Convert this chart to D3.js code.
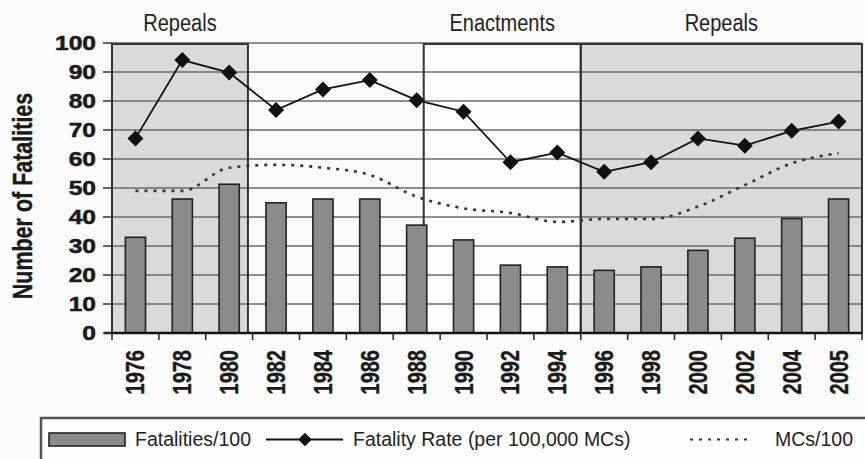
<!DOCTYPE html>
<html>
<head>
<meta charset="utf-8">
<script src="https://cdn.jsdelivr.net/npm/d3@7"></script>
<style>
  html, body { margin: 0; padding: 0; background: #fbfbfb; }
  svg { display: block; }
</style>
</head>
<body>
<svg id="chart" width="865" height="459"></svg>
<script>
// ---- data ----
const years = ["1976","1978","1980","1982","1984","1986","1988","1990","1992","1994","1996","1998","2000","2002","2004","2005"];
const fatalities = [33, 46.2, 51.3, 44.9, 46.2, 46.2, 37.2, 32.1, 23.4, 22.8, 21.6, 22.8, 28.5, 32.7, 39.5, 46.2];
const fatalityRate = [67.1, 94.1, 89.8, 76.9, 84.0, 87.2, 80.3, 76.3, 58.9, 62.2, 55.6, 58.9, 67.1, 64.6, 69.7, 72.9];
const mcs = [49, 49, 57, 58, 57, 54.5, 47, 43, 41.4, 38.3, 39.3, 39.3, 43.6, 51, 58.5, 62];
const yTicks = [0, 10, 20, 30, 40, 50, 60, 70, 80, 90, 100];
const regionLabels = ["Repeals", "Enactments", "Repeals"];
const regionStart = [0, 6.65, 10];   // in category-index units
const regionEnd = [2.9, 10, 16];
const regionShaded = [true, false, true];
const legendLabels = ["Fatalities/100", "Fatality Rate (per 100,000 MCs)", "MCs/100"];
const yTitle = "Number of Fatalities";

// ---- layout ----
const svg = d3.select("#chart");
const L = 112, R = 862, T = 43, B = 333;

const x = d3.scaleBand().domain(years).range([L, R]).paddingInner(0.57).paddingOuter(0.285);
const xi = d3.scaleLinear().domain([0, years.length]).range([L, R]);
const y = d3.scaleLinear().domain([0, 100]).range([B, T]);
const cx = d => x(d) + x.bandwidth() / 2;

const barFill = "#8b8b8b", shade = "#dadada", dark = "#222";
const font = "'Liberation Sans', Arial, sans-serif";

// region boxes
regionLabels.forEach((lab, i) => {
  svg.append("rect")
    .attr("x", xi(regionStart[i])).attr("y", y(100) + 1)
    .attr("width", xi(regionEnd[i]) - xi(regionStart[i]))
    .attr("height", y(0) - y(100) - 1)
    .attr("fill", regionShaded[i] ? shade : "#fdfdfd");
});

// gridlines
svg.append("g").selectAll("line").data(yTicks.filter(t => t > 0)).join("line")
  .attr("x1", L).attr("x2", R - 1)
  .attr("y1", d => y(d)).attr("y2", d => y(d))
  .attr("stroke", "#6a6a6a").attr("stroke-width", 1.4);

// region borders and labels
regionLabels.forEach((lab, i) => {
  svg.append("rect")
    .attr("x", xi(regionStart[i])).attr("y", y(100) + 1)
    .attr("width", xi(regionEnd[i]) - xi(regionStart[i]))
    .attr("height", y(0) - y(100) - 1)
    .attr("fill", "none").attr("stroke", "#333").attr("stroke-width", 2);
  svg.append("g")
    .attr("transform", `translate(${(xi(regionStart[i]) + xi(regionEnd[i])) / 2},30.5) scale(0.87,1)`)
    .append("text")
    .attr("text-anchor", "middle")
    .attr("font-family", font)
    .attr("font-size", 23).attr("fill", "#222")
    .text(lab);
});

// bars
svg.append("g").selectAll("rect").data(years).join("rect")
  .attr("x", d => x(d)).attr("width", x.bandwidth())
  .attr("y", (d, i) => y(fatalities[i]))
  .attr("height", (d, i) => y(0) - y(fatalities[i]))
  .attr("fill", barFill).attr("stroke", dark).attr("stroke-width", 1.6);

// MCs dotted line
svg.append("path")
  .datum(years)
  .attr("d", d3.line().x(d => cx(d)).y((d, i) => y(mcs[i])).curve(d3.curveMonotoneX))
  .attr("fill", "none").attr("stroke", "#333").attr("stroke-width", 2.6)
  .attr("stroke-dasharray", "3,6");

// fatality rate line
svg.append("path")
  .datum(years)
  .attr("d", d3.line().x(d => cx(d)).y((d, i) => y(fatalityRate[i])))
  .attr("fill", "none").attr("stroke", "#111").attr("stroke-width", 1.8);

svg.append("g").selectAll("path").data(years).join("path")
  .attr("d", d3.symbol().type(d3.symbolSquare).size(128))
  .attr("transform", (d, i) => `translate(${cx(d)},${y(fatalityRate[i])}) rotate(45)`)
  .attr("fill", "#111");

// x axis line + ticks
svg.append("line").attr("x1", 104).attr("x2", R).attr("y1", B).attr("y2", B)
  .attr("stroke", "#111").attr("stroke-width", 2.5);
svg.append("g").selectAll("line").data(d3.range(years.length + 1)).join("line")
  .attr("x1", d => xi(d)).attr("x2", d => xi(d))
  .attr("y1", B).attr("y2", B + 7)
  .attr("stroke", "#222").attr("stroke-width", 1.5);

// y ticks
svg.append("g").selectAll("line").data(yTicks).join("line")
  .attr("x1", 103).attr("x2", L).attr("y1", d => y(d)).attr("y2", d => y(d))
  .attr("stroke", "#333").attr("stroke-width", 1.5);
svg.append("g").selectAll("g").data(yTicks).join("g")
  .attr("transform", d => `translate(96,${y(d)}) scale(1.26,1)`)
  .append("text")
  .attr("text-anchor", "end").attr("dy", "0.36em")
  .attr("font-family", font)
  .attr("font-weight", "bold").attr("font-size", 19.5).attr("fill", "#1a1a1a")
  .attr("stroke", "#1a1a1a").attr("stroke-width", 0.5)
  .text(d => d);

// x labels
svg.append("g").selectAll("g").data(years).join("g")
  .attr("transform", d => `translate(${cx(d)},350) scale(1.25,1) rotate(-90)`)
  .append("text")
  .attr("text-anchor", "end").attr("dy", "0.36em")
  .attr("font-family", font)
  .attr("font-weight", "bold").attr("font-size", 20).attr("fill", "#1a1a1a")
  .attr("stroke", "#1a1a1a").attr("stroke-width", 0.3)
  .text(d => d);

// y title
svg.append("g").attr("transform", "translate(22,196) scale(1.32,1) rotate(-90)")
  .append("text")
  .attr("text-anchor", "middle").attr("dy", "0.36em")
  .attr("font-family", font)
  .attr("font-weight", "bold").attr("font-size", 21.5).attr("fill", "#1a1a1a")
  .attr("stroke", "#1a1a1a").attr("stroke-width", 0.3)
  .text(yTitle);

// legend
const lg = svg.append("g");
lg.append("rect").attr("x", 41).attr("y", 418).attr("width", 840).attr("height", 60)
  .attr("fill", "#fefefe").attr("stroke", "#555").attr("stroke-width", 2.5);
const ly = 439.5;
lg.append("rect").attr("x", 49).attr("y", 433).attr("width", 76).attr("height", 13)
  .attr("fill", barFill).attr("stroke", dark).attr("stroke-width", 1.6);
const ltext = (xx, t) => lg.append("text").attr("x", xx).attr("y", 445.5)
  .attr("font-family", font)
  .attr("font-size", 19.5).attr("fill", "#222").text(t);
ltext(135, legendLabels[0]);
lg.append("line").attr("x1", 266).attr("x2", 343).attr("y1", ly).attr("y2", ly)
  .attr("stroke", "#111").attr("stroke-width", 1.8);
lg.append("path").attr("d", d3.symbol().type(d3.symbolSquare).size(90))
  .attr("transform", `translate(305,${ly}) rotate(45)`).attr("fill", "#111");
ltext(353, legendLabels[1]);
lg.append("line").attr("x1", 690).attr("x2", 752).attr("y1", ly).attr("y2", ly)
  .attr("stroke", "#333").attr("stroke-width", 2.2).attr("stroke-dasharray", "3,6");
ltext(775, legendLabels[2]);
</script>
</body>
</html>
